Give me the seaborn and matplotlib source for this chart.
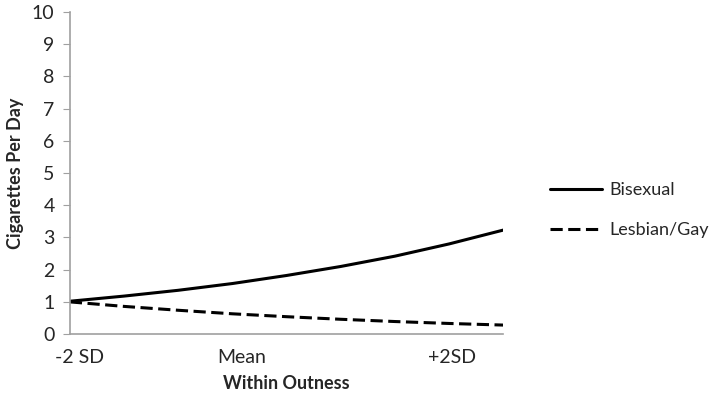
import pandas as pd
import seaborn as sns
import matplotlib.pyplot as plt

# ---- data ----
outness = [-2.0, -1.5, -1.0, -0.5, 0.0, 0.5, 1.0, 1.5, 2.0]
bisexual = [1.02, 1.18, 1.36, 1.57, 1.82, 2.10, 2.42, 2.80, 3.23]
lesbian_gay = [1.00, 0.86, 0.74, 0.63, 0.54, 0.46, 0.39, 0.33, 0.28]

tick_pos = [-1.91, -0.41, 1.53]
tick_labels = ['-2 SD', 'Mean', '+2SD']

df = pd.DataFrame({
    'outness': outness * 2,
    'cigs': bisexual + lesbian_gay,
    'group': ['Bisexual'] * len(outness) + ['Lesbian/Gay'] * len(outness),
})

sns.set_style('white')
plt.rcParams['font.family'] = ['Lato', 'DejaVu Sans']

fig = plt.figure(figsize=(7.2, 4.03), dpi=100)
ax = fig.add_axes([0.097, 0.171, 0.602, 0.799])

sns.lineplot(data=df, x='outness', y='cigs', hue='group', style='group',
             palette=['black', 'black'], dashes=[(None, None), (4, 1.8)],
             linewidth=2.2, ax=ax)

ax.set_xlim(-2, 2)
ax.set_ylim(0, 10)
ax.set_yticks(range(0, 11))
ax.set_xticks(tick_pos)
ax.set_xticklabels(tick_labels)
ax.tick_params(axis='y', labelsize=14, length=5, color='#a0a0a0', left=True, pad=6)
ax.tick_params(axis='x', labelsize=14, length=0, pad=11)

for side in ['top', 'right']:
    ax.spines[side].set_visible(False)
for side in ['left', 'bottom']:
    ax.spines[side].set_color('#a0a0a0')
    ax.spines[side].set_linewidth(1.2)

ax.set_xlabel('Within Outness', fontsize=13, fontweight='bold', labelpad=6)
ax.set_ylabel('Cigarettes Per Day', fontsize=13, fontweight='bold', labelpad=6)

ax.legend(loc='center left', bbox_to_anchor=(1.07, 0.385), frameon=False,
          fontsize=13, handlelength=2.9, handletextpad=0.4, labelspacing=1.3)

fig.savefig('out.png', dpi=100)
